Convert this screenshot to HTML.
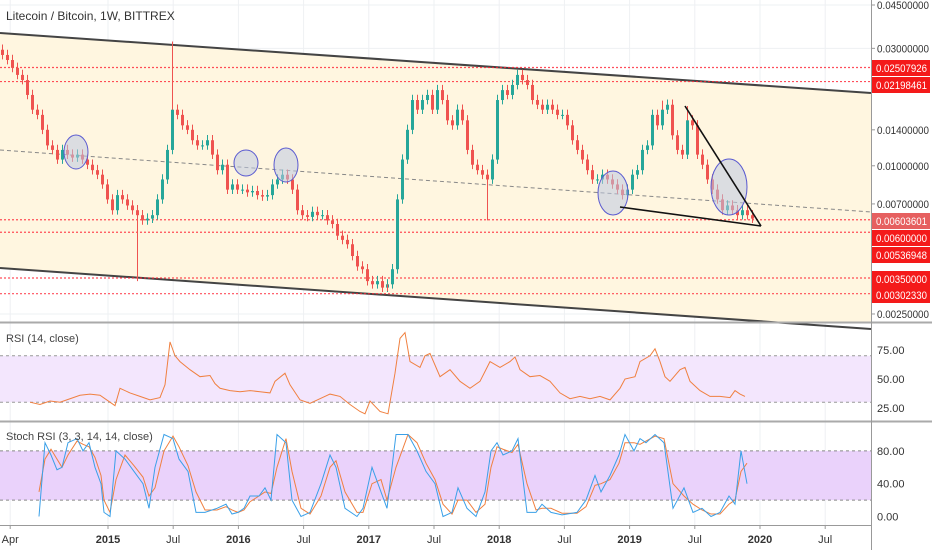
<!DOCTYPE html>
<html><head><meta charset="utf-8"><style>
html,body{margin:0;padding:0;background:#fff;}
svg{display:block;font-family:"Liberation Sans",sans-serif;}
</style></head><body>
<svg id="chart" width="932" height="550" viewBox="0 0 932 550" xmlns="http://www.w3.org/2000/svg">
<g id="bg"></g>
<g id="price-pane"></g>
<g id="rsi-pane"></g>
<g id="stoch-pane"></g>
<g id="axes"></g>
</svg>
<script>
// ---- data ----
const closes = [0.0282,0.0269,0.0250,0.0234,0.0223,0.0194,0.0169,0.0161,0.0140,0.0121,0.0116,0.0106,0.0116,0.0111,0.0108,0.0111,0.0106,0.0101,0.0096,0.0092,0.0084,0.0073,0.0066,0.0076,0.0073,0.0069,0.0066,0.0063,0.0060,0.0061,0.0063,0.0073,0.0088,0.0116,0.0169,0.0161,0.0146,0.0140,0.0127,0.0121,0.0121,0.0127,0.0111,0.0096,0.0101,0.0080,0.0084,0.0080,0.0080,0.0078,0.0079,0.0076,0.0075,0.0076,0.0084,0.0088,0.0092,0.0088,0.0080,0.0066,0.0063,0.0062,0.0065,0.0063,0.0063,0.0060,0.0058,0.0052,0.0050,0.0048,0.0043,0.0039,0.0038,0.0034,0.0033,0.0034,0.0032,0.0033,0.0038,0.0073,0.0106,0.0140,0.0185,0.0169,0.0185,0.0194,0.0169,0.0203,0.0185,0.0153,0.0146,0.0169,0.0153,0.0116,0.0101,0.0096,0.0092,0.0088,0.0106,0.0185,0.0203,0.0194,0.0213,0.0234,0.0223,0.0213,0.0185,0.0177,0.0169,0.0177,0.0169,0.0161,0.0161,0.0146,0.0127,0.0116,0.0106,0.0096,0.0088,0.0088,0.0092,0.0088,0.0084,0.0080,0.0076,0.0080,0.0092,0.0096,0.0116,0.0121,0.0161,0.0146,0.0169,0.0177,0.0133,0.0116,0.0111,0.0153,0.0146,0.0111,0.0101,0.0088,0.0080,0.0073,0.0066,0.0069,0.0066,0.0063,0.0066,0.0063,0.0061];
const spikeIdx = [34,27,77,97,132,137];
const spikePrice = [0.0320,0.0034,0.0031,0.0060,0.0184,0.0175];
const rsiX = [30,40,50,60,70,80,90,100,110,115,120,130,140,150,160,165,170,175,180,190,200,210,215,220,230,240,250,260,270,275,285,290,300,310,320,330,340,350,360,365,370,380,388,395,400,405,410,420,425,430,440,450,460,470,480,490,500,510,515,520,530,540,550,560,570,580,590,600,610,620,625,635,640,650,655,660,665,670,680,685,690,700,710,720,730,735,740,745];
const rsiVal = [30,28,31,30,33,36,37,36,30,27,42,38,35,32,34,45,82,70,65,58,52,53,46,42,40,39,40,39,38,48,55,45,32,29,33,37,35,28,22,20,31,22,20,55,85,90,65,60,70,72,52,58,48,42,48,65,60,65,69,58,52,53,48,38,33,35,33,35,32,42,50,52,65,70,76,65,52,48,58,60,48,40,35,35,34,40,37,35];
const stochX = [39,45,51,57,62,68,77,83,89,95,101,104,110,116,125,134,143,149,155,164,173,179,188,196,205,217,226,232,238,244,250,259,265,271,277,286,292,301,310,321,330,336,345,357,363,372,381,387,396,408,417,426,435,443,452,458,467,476,485,491,497,503,512,518,527,536,542,551,562,577,586,595,601,610,619,625,634,640,646,655,664,673,684,693,702,711,720,729,735,741,747];
const stochK = [0,90,75,57,60,90,95,80,90,60,40,5,0,80,70,55,40,10,60,100,95,70,55,5,5,10,15,3,5,10,25,25,35,20,100,90,20,0,5,40,75,60,10,0,10,60,30,10,100,100,80,55,40,0,5,35,10,0,30,80,90,75,80,95,5,5,15,5,2,5,20,50,30,50,75,100,80,95,90,100,90,10,35,5,10,0,5,25,15,80,40];
const stochD = [30,70,82,70,60,75,92,88,85,72,50,20,5,45,75,62,48,25,35,80,98,85,62,30,8,8,12,8,5,8,18,25,30,28,60,95,55,10,3,25,60,68,30,5,5,40,45,20,60,100,90,65,45,15,3,20,20,5,15,60,85,82,78,88,40,8,10,10,4,4,12,38,40,45,65,90,90,88,92,98,95,40,25,15,8,3,3,15,20,55,65];
const priceTicks = [0.045,0.03,0.014,0.01,0.007,0.0025];
const priceTickLabels = ["0.04500000","0.03000000","0.01400000","0.01000000","0.00700000","0.00250000"];
const levelPrices = [0.02507926,0.02198461,0.00603601,0.00536948,0.0035,0.0030233];
const levelLabels = ["0.02507926","0.02198461","0.00603601","0.00600000","0.00536948","0.00350000","0.00302330"];
const levelLabelY = [68,85,221,238,255,279,295];
const timeLabels = ["Apr","2015","Jul","2016","Jul","2017","Jul","2018","Jul","2019","Jul","2020","Jul"];
const timeYears = [2014.25,2015,2015.5,2016,2016.5,2017,2017.5,2018,2018.5,2019,2019.5,2020,2020.5];

// ---- scales ----
const NS="http://www.w3.org/2000/svg";
const AX=871;
function yP(p){return 5+(Math.log(0.045)-Math.log(p))*106.9;}
function xI(i){return 2.5+i*5;}
function xY(yr){return 108+(yr-2015)*130.4;}
function yR(v){return 379-(v-50)*1.16;}
function yS(v){return 516.5-v*0.82;}
function mk(parent,tag,attrs,name,text){const e=document.createElementNS(NS,tag);for(const k in attrs)e.setAttribute(k,attrs[k]);


if(text!==undefined)e.textContent=text;parent.appendChild(e);return e;}
const bg=document.getElementById('bg'),pp=document.getElementById('price-pane'),rp=document.getElementById('rsi-pane'),sp=document.getElementById('stoch-pane'),ax=document.getElementById('axes');

// grid
timeYears.forEach((t,i)=>{mk(bg,'line',{x1:xY(t),x2:xY(t),y1:0,y2:525,stroke:'#eef0f3','stroke-width':1},'grid-v');});
priceTicks.forEach(p=>mk(bg,'line',{x1:0,x2:AX,y1:yP(p),y2:yP(p),stroke:'#eef0f3'},'grid-h'));
// channel fill
mk(pp,'polygon',{points:`0,33 ${AX},93 ${AX},322 770,322 0,268`,fill:'#fff6e0'},'channel-fill');
mk(pp,'line',{x1:0,y1:33,x2:AX,y2:93,stroke:'#444','stroke-width':2},'channel-top-line');
mk(pp,'line',{x1:0,y1:268,x2:AX,y2:329,stroke:'#444','stroke-width':2},'channel-bottom-line');
mk(pp,'line',{x1:0,y1:150,x2:AX,y2:212,stroke:'#888','stroke-width':1,'stroke-dasharray':'4 3'},'channel-mid-line');
levelPrices.forEach(p=>mk(pp,'line',{x1:0,x2:AX,y1:yP(p),y2:yP(p),stroke:'#f23',opacity:0.8,'stroke-width':1.2,'stroke-dasharray':'2 2'},'level-line'));
// candles
let prev=closes[0]*1.05;
closes.forEach((c,i)=>{const o=prev;const up=c>=o;const col=up?'#26a69a':'#ef5350';const x=xI(i);
 const hi=Math.max(o,c)*1.05,lo=Math.min(o,c)*0.96;
 mk(pp,'line',{x1:x,x2:x,y1:yP(hi),y2:yP(lo),stroke:col,'stroke-width':1},'candle-wick');
 const y1=yP(Math.max(o,c)),y2=yP(Math.min(o,c));
 mk(pp,'rect',{x:x-1.5,y:y1,width:3,height:Math.max(1,y2-y1),fill:col},'candle-body');prev=c;});
spikeIdx.forEach((i,k)=>{const x=xI(i);const c=closes[i];mk(pp,'line',{x1:x,x2:x,y1:yP(c),y2:yP(spikePrice[k]),stroke:'#ef5350','stroke-width':1},'candle-spike-wick');});
// drawings
[[76,152,12,17],[246,163,12,13],[286,165,12,17],[613,193,15,22],[729,187,18,28]].forEach(e=>mk(pp,'ellipse',{cx:e[0],cy:e[1],rx:e[2],ry:e[3],fill:'rgba(190,200,225,0.55)',stroke:'#5a5ad0','stroke-width':1},'highlight-circle'));
mk(pp,'line',{x1:620,y1:207,x2:761,y2:226,stroke:'#111','stroke-width':1.6},'triangle-lower-line');
mk(pp,'line',{x1:685,y1:106,x2:761,y2:226,stroke:'#111','stroke-width':1.6},'triangle-upper-line');
mk(pp,'text',{x:6,y:20,'font-size':12,fill:'#333'},'chart-title','Litecoin / Bitcoin, 1W, BITTREX');

// RSI
mk(rp,'rect',{x:0,y:yR(70),width:AX,height:yR(30)-yR(70),fill:'#f3e6fd'},'rsi-band');
[70,30].forEach(v=>mk(rp,'line',{x1:0,x2:AX,y1:yR(v),y2:yR(v),stroke:'#999','stroke-dasharray':'3 3'},'rsi-band-line'));
mk(rp,'polyline',{points:rsiX.map((x,i)=>x+','+yR(rsiVal[i])).join(' '),fill:'none',stroke:'#f08040','stroke-width':1},'rsi-line');
mk(rp,'text',{x:6,y:342,'font-size':11,fill:'#444'},'rsi-title','RSI (14, close)');
[75,50,25].forEach(v=>mk(rp,'text',{x:AX+6,y:yR(v)+4,'font-size':11,fill:'#333'},'rsi-tick',v.toFixed(2)));

// Stoch
mk(sp,'rect',{x:0,y:yS(80),width:AX,height:yS(20)-yS(80),fill:'#ead2fb'},'stoch-band');
[80,20].forEach(v=>mk(sp,'line',{x1:0,x2:AX,y1:yS(v),y2:yS(v),stroke:'#888','stroke-dasharray':'3 3'},'stoch-band-line'));
mk(sp,'polyline',{points:stochX.map((x,i)=>x+','+yS(stochD[i])).join(' '),fill:'none',stroke:'#f08040','stroke-width':1},'stoch-d-line');
mk(sp,'polyline',{points:stochX.map((x,i)=>x+','+yS(stochK[i])).join(' '),fill:'none',stroke:'#3aa0e8','stroke-width':1},'stoch-k-line');
mk(sp,'text',{x:6,y:440,'font-size':11,fill:'#444'},'stoch-title','Stoch RSI (3, 3, 14, 14, close)');
[80,40,0].forEach(v=>mk(sp,'text',{x:AX+6,y:yS(v)+4,'font-size':11,fill:'#333'},'stoch-tick',v.toFixed(2)));

// axes & separators
mk(ax,'line',{x1:0,x2:932,y1:322.5,y2:322.5,stroke:'#aaa','stroke-width':2},'pane-separator');
mk(ax,'line',{x1:0,x2:932,y1:421.5,y2:421.5,stroke:'#aaa','stroke-width':2},'pane-separator');
mk(ax,'line',{x1:0,x2:AX,y1:525.5,y2:525.5,stroke:'#999'},'time-axis-line');
mk(ax,'line',{x1:AX+0.5,x2:AX+0.5,y1:0,y2:550,stroke:'#999'},'price-axis-line');
priceTicks.forEach((p,i)=>{mk(ax,'line',{x1:AX,x2:AX+4,y1:yP(p),y2:yP(p),stroke:'#999'},'price-tick-mark');
 mk(ax,'text',{x:AX+6,y:yP(p)+4,'font-size':11,fill:'#333',textLength:52,lengthAdjust:'spacingAndGlyphs'},'price-tick-label',priceTickLabels[i]);});
levelLabels.forEach((l,i)=>{const y=levelLabelY[i];mk(ax,'rect',{x:AX+1,y:y-8,width:58,height:16,fill:i==2?'#e66060':'#f41a1a'},'level-label-bg');
 mk(ax,'text',{x:AX+5,y:y+4,'font-size':11,fill:'#fff',textLength:51,lengthAdjust:'spacingAndGlyphs'},'level-label',l);});
timeLabels.forEach((t,i)=>{const x=xY(timeYears[i]);mk(ax,'line',{x1:x,x2:x,y1:525,y2:529,stroke:'#999'},'time-tick');
 mk(ax,'text',{x:x,y:543,'font-size':11,fill:'#333','text-anchor':'middle','font-weight':(t.length==4?'bold':'normal')},'time-tick-label',t);});
</script>
</body></html>
